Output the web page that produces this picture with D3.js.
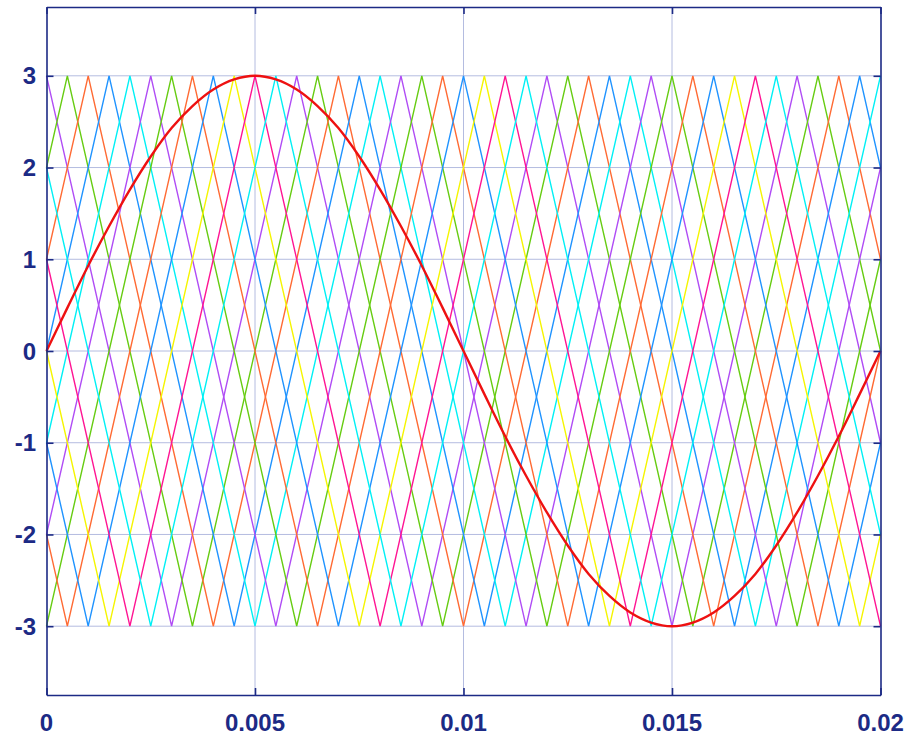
<!DOCTYPE html>
<html>
<head>
<meta charset="utf-8">
<script src="https://cdn.jsdelivr.net/npm/d3@7"></script>
<style>
  html, body { margin: 0; padding: 0; background: #ffffff; }
  svg { display: block; }
  .tick-label { font-family: "Liberation Sans", Arial, sans-serif; font-weight: bold; font-size: 24px; fill: #1c2a85; }
</style>
</head>
<body>
<svg id="chart" width="908" height="738"></svg>
<script>
// Axis ticks
const xTicks = [0, 0.005, 0.01, 0.015, 0.02];
const xTickLabels = ["0", "0.005", "0.01", "0.015", "0.02"];
const yTicks = [-3, -2, -1, 0, 1, 2, 3];
const yTickLabels = ["-3", "-2", "-1", "0", "1", "2", "3"];

// Phase-shifted triangular carriers: vertices as [time (ms), value]
const carrier0  = [[0,3],[3,-3],[6,3],[9,-3],[12,3],[15,-3],[18,3],[20,-1]];
const carrier1  = [[0,2],[0.5,3],[3.5,-3],[6.5,3],[9.5,-3],[12.5,3],[15.5,-3],[18.5,3],[20,0]];
const carrier2  = [[0,1],[1,3],[4,-3],[7,3],[10,-3],[13,3],[16,-3],[19,3],[20,1]];
const carrier3  = [[0,0],[1.5,3],[4.5,-3],[7.5,3],[10.5,-3],[13.5,3],[16.5,-3],[19.5,3],[20,2]];
const carrier4  = [[0,-1],[2,3],[5,-3],[8,3],[11,-3],[14,3],[17,-3],[20,3]];
const carrier5  = [[0,-2],[2.5,3],[5.5,-3],[8.5,3],[11.5,-3],[14.5,3],[17.5,-3],[20,2]];
const carrier6  = [[0,-3],[3,3],[6,-3],[9,3],[12,-3],[15,3],[18,-3],[20,1]];
const carrier7  = [[0,-2],[0.5,-3],[3.5,3],[6.5,-3],[9.5,3],[12.5,-3],[15.5,3],[18.5,-3],[20,0]];
const carrier8  = [[0,-1],[1,-3],[4,3],[7,-3],[10,3],[13,-3],[16,3],[19,-3],[20,-1]];
const carrier9  = [[0,0],[1.5,-3],[4.5,3],[7.5,-3],[10.5,3],[13.5,-3],[16.5,3],[19.5,-3],[20,-2]];
const carrier10 = [[0,1],[2,-3],[5,3],[8,-3],[11,3],[14,-3],[17,3],[20,-3]];
const carrier11 = [[0,2],[2.5,-3],[5.5,3],[8.5,-3],[11.5,3],[14.5,-3],[17.5,3],[20,-2]];

const carriers = [carrier0, carrier1, carrier2, carrier3, carrier4, carrier5,
                  carrier6, carrier7, carrier8, carrier9, carrier10, carrier11];
const carrierColors = ["#b04cf5", "#66cc11", "#ff6a33", "#1f93ff", "#00f0f5", "#b04cf5",
                       "#66cc11", "#ff6a33", "#1f93ff", "#f5f500", "#ff1493", "#00f0f5"];

// Reference (modulating) wave, sampled every 0.5 ms
const refTimes = d3.range(41).map(i => i * 0.5);
const refValues = [0, 0.47, 0.93, 1.36, 1.76, 2.12, 2.43, 2.67, 2.85, 2.96, 3.00,
                   2.96, 2.85, 2.67, 2.43, 2.12, 1.76, 1.36, 0.93, 0.47, 0,
                   -0.47, -0.93, -1.36, -1.76, -2.12, -2.43, -2.67, -2.85, -2.96, -3.00,
                   -2.96, -2.85, -2.67, -2.43, -2.12, -1.76, -1.36, -0.93, -0.47, 0];

const svg = d3.select("#chart");
const margin = { left: 46.5, right: 27.5, top: 7, bottom: 43 };
const W = 908, H = 738;
const x = d3.scaleLinear().domain([0, 0.02]).range([margin.left, W - margin.right]);
const y = d3.scaleLinear().domain([-3.75, 3.75]).range([H - margin.bottom, margin.top]);

const axisColor = "#1c2a85";
const gridColor = "#b4bce0";

// Grid
const grid = svg.append("g");
grid.selectAll("line.gx").data(xTicks.slice(1, -1)).join("line")
  .attr("x1", d => x(d)).attr("x2", d => x(d))
  .attr("y1", y(3.75)).attr("y2", y(-3.75))
  .attr("stroke", gridColor).attr("stroke-width", 1);
grid.selectAll("line.gy").data(yTicks).join("line")
  .attr("x1", x(0)).attr("x2", x(0.02))
  .attr("y1", d => y(d)).attr("y2", d => y(d))
  .attr("stroke", gridColor).attr("stroke-width", 1);

// Carriers
const line = d3.line().x(d => x(d[0] / 1000)).y(d => y(d[1]));
const plot = svg.append("g");
plot.selectAll("path.carrier").data(carriers).join("path")
  .attr("class", "carrier")
  .attr("d", line)
  .attr("fill", "none")
  .attr("stroke", (d, i) => carrierColors[i])
  .attr("stroke-width", 1.4)
  .attr("stroke-linejoin", "miter");

// Reference wave
const refData = refTimes.map((t, i) => [t, refValues[i]]);
plot.append("path")
  .attr("d", d3.line().x(d => x(d[0] / 1000)).y(d => y(d[1])).curve(d3.curveCatmullRom.alpha(0.5))(refData))
  .attr("fill", "none")
  .attr("stroke", "#ee1111")
  .attr("stroke-width", 2.4);

// Axes box with inward ticks
const xAxisB = d3.axisBottom(x).tickValues(xTicks).tickSize(-7).tickFormat("");
const xAxisT = d3.axisTop(x).tickValues(xTicks).tickSize(-7).tickFormat("");
const yAxisL = d3.axisLeft(y).tickValues(yTicks).tickSize(-7).tickFormat("");
const yAxisR = d3.axisRight(y).tickValues(yTicks).tickSize(-7).tickFormat("");
function styleAxis(g) {
  g.selectAll("path.domain").attr("stroke", axisColor).attr("stroke-width", 1.6);
  g.selectAll(".tick line").attr("stroke", axisColor).attr("stroke-width", 1.6);
}
svg.append("g").attr("transform", `translate(0,${y(-3.75)})`).call(xAxisB.tickSizeOuter(0)).call(styleAxis);
svg.append("g").attr("transform", `translate(0,${y(3.75)})`).call(xAxisT.tickSizeOuter(0)).call(styleAxis);
svg.append("g").attr("transform", `translate(${x(0)},0)`).call(yAxisL.tickSizeOuter(0)).call(styleAxis);
svg.append("g").attr("transform", `translate(${x(0.02)},0)`).call(yAxisR.tickSizeOuter(0)).call(styleAxis);

// Tick labels
svg.append("g").selectAll("text").data(xTicks).join("text")
  .attr("class", "tick-label")
  .attr("x", d => x(d)).attr("y", 731)
  .attr("text-anchor", "middle")
  .text((d, i) => xTickLabels[i]);
svg.append("g").selectAll("text").data(yTicks).join("text")
  .attr("class", "tick-label")
  .attr("x", 36).attr("y", d => y(d) + 8.5)
  .attr("text-anchor", "end")
  .text((d, i) => yTickLabels[i]);
</script>
</body>
</html>
